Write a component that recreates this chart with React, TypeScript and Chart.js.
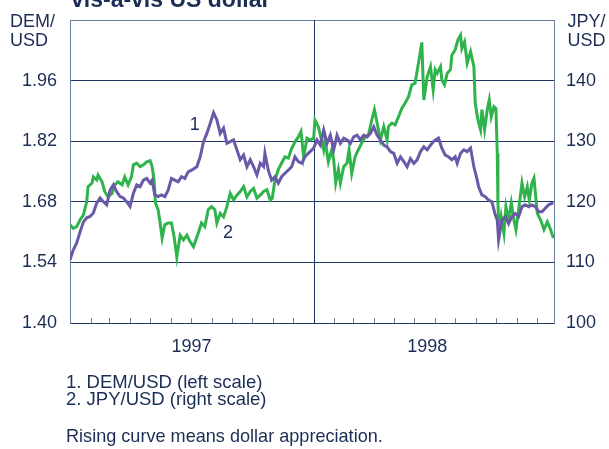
import React, { useEffect, useRef } from 'react';
import { Chart, registerables } from 'chart.js';

Chart.register(...registerables);

// ---- data (days since 1 Jan 1997) ----
const demDays = [0,5,10,15,20,25,30,35,40,45,50,55,60,65,70,75,80,85,90,95,100,105,110,115,120,123,127,132,137,142,147,152,157,162,167,172,177,182,190,195,200,205,210,215,220,225,230,235,240,245,250,255,260,265,270,275,280,285,290,292,297,302,307,312,317,322,327,332,337,342,347,352,357,365,370,375,380,385,390,395,400,405,410,415,420,425,430,435,440,445,450,455,460,465,470,475,480,485,490,495,500,505,510,515,520,525,530,535,540,545,552,557,562,567,572,577,580,585,590,595,600,605,610,612,617,622,627,632,637,640,642,647,652,657,662,667,672,677,682,687,692,697,702,707,712,717,724];
const demValues = [1.546,1.569,1.585,1.610,1.633,1.643,1.646,1.654,1.677,1.689,1.680,1.673,1.707,1.719,1.703,1.692,1.689,1.680,1.669,1.700,1.719,1.715,1.730,1.734,1.723,1.730,1.696,1.692,1.696,1.692,1.707,1.734,1.730,1.726,1.738,1.734,1.749,1.753,1.761,1.784,1.819,1.838,1.861,1.886,1.869,1.838,1.850,1.815,1.819,1.823,1.800,1.777,1.788,1.761,1.777,1.761,1.742,1.769,1.761,1.792,1.753,1.730,1.738,1.723,1.738,1.746,1.753,1.761,1.784,1.773,1.769,1.784,1.792,1.804,1.823,1.811,1.846,1.815,1.834,1.800,1.834,1.815,1.827,1.823,1.815,1.830,1.834,1.823,1.834,1.830,1.838,1.853,1.834,1.823,1.811,1.807,1.796,1.792,1.769,1.784,1.773,1.761,1.780,1.769,1.777,1.796,1.807,1.800,1.811,1.820,1.827,1.804,1.788,1.784,1.777,1.784,1.769,1.792,1.800,1.796,1.804,1.761,1.730,1.715,1.696,1.692,1.684,1.680,1.650,1.638,1.592,1.638,1.646,1.630,1.646,1.653,1.646,1.669,1.673,1.669,1.673,1.669,1.657,1.657,1.665,1.673,1.678];

const jpyDays = [0,5,10,15,20,25,27,33,35,40,42,48,52,57,63,67,72,78,82,87,92,95,100,105,110,115,120,123,126,128,132,135,138,142,147,152,156,160,165,170,175,180,185,192,197,202,207,212,217,220,225,230,235,240,245,250,255,260,265,270,275,280,285,290,295,300,303,307,312,317,322,327,332,337,342,346,350,355,360,365,367,372,375,380,382,387,392,395,398,402,405,410,415,418,422,427,432,437,442,447,452,456,460,465,470,475,477,482,487,492,497,502,507,512,517,522,527,530,535,540,544,547,550,555,557,561,565,570,572,577,581,585,587,591,595,600,605,607,611,615,617,621,625,628,631,635,638,640,641,643,646,650,653,657,661,665,668,672,677,681,685,688,692,695,700,705,710,715,720,724];
const jpyValues = [116.2,115.6,115.9,117.0,117.8,120.0,122.5,123.1,124.1,123.6,124.4,123.3,121.7,120.8,121.4,122.8,123.3,122.8,124.1,122.8,124.1,126.1,126.4,125.8,126.1,126.6,126.8,125.8,123.6,119.8,118.7,116.5,114.0,116.2,116.5,116.5,114.2,110.9,114.5,113.7,114.5,113.4,112.6,114.8,116.5,115.9,118.7,119.2,118.7,116.5,118.1,117.5,119.2,121.4,120.3,121.1,121.7,122.5,120.8,121.7,122.2,120.6,121.1,121.7,122.0,120.3,120.6,123.6,125.3,126.4,127.4,127.2,128.8,129.9,130.7,131.6,127.4,130.5,130.2,130.5,133.5,132.4,131.0,128.6,130.2,126.6,128.6,126.9,123.1,125.3,123.1,125.8,126.4,128.6,124.7,127.4,128.6,129.7,130.7,131.0,133.5,135.2,133.0,130.2,132.4,130.2,132.4,133.0,132.7,134.0,135.4,136.3,137.3,139.3,139.6,142.9,146.3,136.8,140.6,142.3,138.5,141.8,141.2,142.3,140.1,139.3,141.2,141.8,144.2,145.1,146.7,147.5,145.3,146.4,142.9,144.8,142.3,136.3,133.5,131.9,135.2,131.9,135.2,136.8,134.0,135.7,135.4,128.0,119.8,114.8,117.5,114.8,119.2,117.0,119.8,117.0,115.4,118.7,123.1,120.8,122.5,120.3,123.1,123.9,118.1,117.0,115.4,116.7,115.4,114.0];

const leftTicks = [1.40, 1.54, 1.68, 1.82, 1.96, 2.10];
const rightTicks = [100, 110, 120, 130, 140, 150];
const yearLabels = ['1997', '1998'];
const yearLabelDays = [182, 535];
const monthTickDays = [31,59,90,120,151,181,212,243,273,304,334,365,396,424,455,485,516,546,577,608,638,669,699];
const yearBoundaryDay = 365;
const xMaxDay = 725;

const titleText = 'vis-a-vis US dollar';
const leftAxisTitle = ['DEM/', 'USD'];
const rightAxisTitle = ['JPY/', 'USD'];
const seriesTags = ['1', '2'];
const footnotes = ['1. DEM/USD (left scale)', '2. JPY/USD (right scale)'];
const noteText = 'Rising curve means dollar appreciation.';

const FONT = "'Liberation Sans', Arial, Helvetica, sans-serif";
const TEXT = '#1b2d55';
const NAVY = '#1d3762';
const SLATE = '#6a819e';
const PURPLE = '#6a58a8';
const GREEN = '#2fb34b';

const monthTickPlugin = {
  id: 'monthTicks',
  beforeDatasetsDraw(chart: any) {
    const { ctx, chartArea, scales } = chart;
    const xs = scales.x;
    ctx.save();
    ctx.lineWidth = 1;
    for (const d of monthTickDays) {
      const px = Math.round(xs.getPixelForValue(d)) + 0.5;
      ctx.beginPath();
      if (d === yearBoundaryDay) {
        ctx.strokeStyle = NAVY;
        ctx.moveTo(px, chartArea.top);
      } else {
        ctx.strokeStyle = SLATE;
        ctx.moveTo(px, chartArea.bottom - 5);
      }
      ctx.lineTo(px, chartArea.bottom);
      ctx.stroke();
    }
    ctx.restore();
  },
};

function txt(text: string, left: number, top: number, size = 18, weight = 400) {
  return (
    <div
      key={text + left + top}
      style={{
        position: 'absolute',
        left,
        top,
        fontFamily: FONT,
        fontSize: size,
        fontWeight: weight,
        lineHeight: `${size}px`,
        color: TEXT,
        whiteSpace: 'nowrap',
      }}
    >
      {text}
    </div>
  );
}

export default function App() {
  const ref = useRef<HTMLCanvasElement | null>(null);

  useEffect(() => {
    if (!ref.current) return;
    const tickFont = { family: FONT, size: 18 };
    const chart = new Chart(ref.current, {
      type: 'line',
      data: {
        datasets: [
          {
            label: 'DEM/USD',
            data: demDays.map((d, i) => ({ x: d, y: demValues[i] })),
            yAxisID: 'y',
            borderColor: PURPLE,
            borderWidth: 3,
            pointRadius: 0,
            tension: 0,
            fill: false,
          },
          {
            label: 'JPY/USD',
            data: jpyDays.map((d, i) => ({ x: d, y: jpyValues[i] })),
            yAxisID: 'y1',
            borderColor: GREEN,
            borderWidth: 3,
            pointRadius: 0,
            tension: 0,
            fill: false,
          },
        ],
      },
      options: {
        animation: false,
        responsive: false,
        maintainAspectRatio: false,
        devicePixelRatio: 1,
        layout: { padding: { top: 20, left: 0, right: 0, bottom: 0 } },
        plugins: {
          legend: { display: false },
          tooltip: { enabled: false },
          title: { display: false },
        },
        scales: {
          x: {
            type: 'linear',
            min: 0,
            max: xMaxDay,
            afterBuildTicks: (s: any) => {
              s.ticks = yearLabelDays.map((v) => ({ value: v }));
            },
            ticks: {
              callback: (_v: any, i: number) => yearLabels[i],
              padding: 13,
              font: tickFont,
              color: TEXT,
              maxRotation: 0,
              autoSkip: false,
            },
            grid: { display: false, drawTicks: false },
            border: { display: true, color: NAVY, width: 1 },
            afterFit: (s: any) => {
              s.height = 126;
              s.paddingLeft = 0;
              s.paddingRight = 0;
            },
          },
          y: {
            position: 'left',
            min: 1.4,
            max: 2.1,
            afterBuildTicks: (s: any) => {
              s.ticks = leftTicks.map((v) => ({ value: v }));
            },
            ticks: {
              callback: (v: any) => (v > 2.05 ? '' : Number(v).toFixed(2)),
              padding: 13,
              font: tickFont,
              color: TEXT,
            },
            grid: {
              drawTicks: false,
              color: (c: any) => (c.tick && c.tick.value > 2.05 ? SLATE : NAVY),
              lineWidth: 1,
            },
            border: { display: true, color: SLATE, width: 1 },
            afterFit: (s: any) => {
              s.width = 70;
              s.paddingTop = 0;
              s.paddingBottom = 0;
            },
          },
          y1: {
            position: 'right',
            min: 100,
            max: 150,
            afterBuildTicks: (s: any) => {
              s.ticks = rightTicks.map((v) => ({ value: v }));
            },
            ticks: {
              callback: (v: any) => (v > 145 ? '' : String(v)),
              padding: 12,
              font: tickFont,
              color: TEXT,
            },
            grid: { drawOnChartArea: false, drawTicks: false },
            border: { display: true, color: SLATE, width: 1 },
            afterFit: (s: any) => {
              s.width = 55;
              s.paddingTop = 0;
              s.paddingBottom = 0;
            },
          },
        },
      } as any,
      plugins: [monthTickPlugin],
    });
    return () => chart.destroy();
  }, []);

  return (
    <div
      style={{
        position: 'fixed',
        left: 0,
        top: 0,
        width: 609,
        height: 449,
        overflow: 'hidden',
        background: '#ffffff',
      }}
    >
      <canvas ref={ref} width={609} height={449} style={{ display: 'block', width: 609, height: 449 }} />
      {txt(titleText, 71, -12.5, 23, 700)}
      {txt(leftAxisTitle[0], 10, 11.8)}
      {txt(leftAxisTitle[1], 10, 31.3)}
      {txt(rightAxisTitle[0], 567.5, 11.8)}
      {txt(rightAxisTitle[1], 567.5, 31.3)}
      {txt(seriesTags[0], 189.7, 114.8)}
      {txt(seriesTags[1], 223, 223)}
      {txt(footnotes[0], 66, 373.3, 18.5)}
      {txt(footnotes[1], 66, 390.3, 18.5)}
      {txt(noteText, 66, 426.8, 18.1)}
    </div>
  );
}
